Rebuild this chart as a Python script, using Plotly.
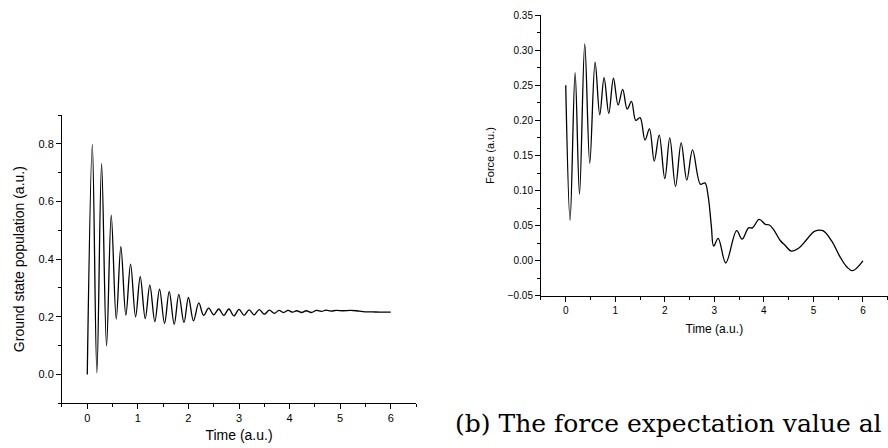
import plotly.graph_objects as go

# Ground state population vs time (turning points of the oscillation)
t_pop = [0.0, 0.100, 0.190, 0.283, 0.381, 0.474, 0.573, 0.664, 0.763, 0.856,
         0.955, 1.047, 1.146, 1.237, 1.336, 1.429, 1.528, 1.620, 1.719, 1.810,
         1.912, 2.000, 2.100, 2.205, 2.300, 2.400, 2.500, 2.600, 2.700, 2.800,
         2.900, 3.000, 3.100, 3.200, 3.300, 3.400, 3.500, 3.600, 3.700, 3.790,
         3.880, 3.970, 4.060, 4.140, 4.240, 4.330, 4.430, 4.530, 4.630, 4.720,
         4.820, 4.920, 5.050, 5.200, 5.320, 5.450, 5.640, 5.840, 6.000]
pop = [0.000, 0.797, 0.006, 0.731, 0.099, 0.553, 0.192, 0.443, 0.206, 0.383,
       0.200, 0.339, 0.194, 0.310, 0.183, 0.296, 0.177, 0.287, 0.174, 0.278,
       0.180, 0.267, 0.186, 0.248, 0.205, 0.230, 0.207, 0.227, 0.205, 0.227,
       0.203, 0.226, 0.205, 0.224, 0.207, 0.225, 0.209, 0.223, 0.212, 0.222,
       0.215, 0.222, 0.216, 0.221, 0.215, 0.221, 0.215, 0.222, 0.219, 0.223,
       0.220, 0.222, 0.221, 0.222, 0.221, 0.218, 0.217, 0.216, 0.216]

# Force expectation value vs time
t_force = [0.000, 0.088, 0.189, 0.278, 0.384, 0.485, 0.593, 0.687, 0.774, 0.869,
           0.963, 1.057, 1.150, 1.240, 1.327, 1.414, 1.500, 1.600, 1.690, 1.787,
           1.887, 2.000, 2.100, 2.216, 2.330, 2.444, 2.560, 2.720, 2.810, 2.875,
           2.940, 2.985, 3.077, 3.230, 3.450, 3.560, 3.690, 3.770, 3.905, 4.030,
           4.110, 4.200, 4.330, 4.430, 4.550, 4.700, 4.860, 5.020, 5.190, 5.370,
           5.535, 5.680, 5.790, 6.000]
force = [0.250, 0.058, 0.268, 0.095, 0.309, 0.139, 0.283, 0.208, 0.261, 0.210,
         0.260, 0.222, 0.244, 0.216, 0.227, 0.200, 0.204, 0.172, 0.188, 0.142,
         0.179, 0.117, 0.175, 0.106, 0.168, 0.115, 0.158, 0.109, 0.111, 0.092,
         0.049, 0.021, 0.032, -0.003, 0.043, 0.031, 0.047, 0.047, 0.059, 0.052,
         0.051, 0.044, 0.029, 0.022, 0.014, 0.018, 0.030, 0.042, 0.043, 0.028,
         0.006, -0.009, -0.014, 0.000]

time_ticks = [0, 1, 2, 3, 4, 5, 6]
pop_ticks = [0.0, 0.2, 0.4, 0.6, 0.8]
force_ticks = [-0.05, 0.00, 0.05, 0.10, 0.15, 0.20, 0.25, 0.30, 0.35]

caption = "(b) The force expectation value al"

FONT = "Liberation Sans, Arial, sans-serif"

fig = go.Figure()
fig.add_trace(go.Scatter(x=t_pop, y=pop, mode="lines",
                         line=dict(color="black", width=1.3, shape="spline", smoothing=1.0),
                         xaxis="x", yaxis="y", showlegend=False))
fig.add_trace(go.Scatter(x=t_force, y=force, mode="lines",
                         line=dict(color="black", width=1.3, shape="spline", smoothing=1.0),
                         xaxis="x2", yaxis="y2", showlegend=False))

common = dict(showline=True, linecolor="black", linewidth=1, ticks="outside",
              ticklen=5, tickwidth=1, tickcolor="black", showgrid=False,
              zeroline=False, automargin=False)

fig.update_layout(
    width=888, height=448,
    margin=dict(l=0, r=0, t=0, b=0),
    paper_bgcolor="white", plot_bgcolor="white",
    font=dict(family=FONT, color="black", size=11),
    xaxis=dict(domain=[0.0698, 0.4685], range=[-0.5, 6.5], anchor="y",
               tickvals=time_ticks, tickfont=dict(size=11),
               minor=dict(dtick=0.5, tick0=0, ticklen=3, ticks="outside", tickcolor="black"),
               title=dict(text="Time (a.u.)", font=dict(size=14), standoff=6), **common),
    yaxis=dict(domain=[0.0998, 0.7433], range=[-0.1, 0.9], anchor="x",
               tickvals=pop_ticks, tickformat=".1f", tickfont=dict(size=11),
               minor=dict(dtick=0.1, tick0=0, ticklen=3, ticks="outside", tickcolor="black"),
               title=dict(text="Ground state population (a.u.)", font=dict(size=14), standoff=10),
               **common),
    xaxis2=dict(domain=[0.6092, 0.9997], range=[-0.5, 6.5], anchor="y2",
                tickvals=time_ticks, tickfont=dict(size=10),
                minor=dict(dtick=0.5, tick0=0, ticklen=3, ticks="outside", tickcolor="black"),
                title=dict(text="Time (a.u.)", font=dict(size=12), standoff=9), **common),
    yaxis2=dict(domain=[0.3393, 0.9665], range=[-0.05, 0.35], anchor="x2",
                tickvals=force_ticks, tickformat=".2f", tickfont=dict(size=10),
                minor=dict(dtick=0.025, tick0=0, ticklen=3, ticks="outside", tickcolor="black"),
                title=dict(text="Force (a.u.)", font=dict(size=11), standoff=10), **common),
    annotations=[dict(text=caption, xref="paper", yref="paper", x=453 / 888, y=1 - 423 / 448,
                      xanchor="left", yanchor="middle", showarrow=False,
                      font=dict(family="DejaVu Serif, serif", size=25, color="black"))],
)

fig.write_html("out.html")
